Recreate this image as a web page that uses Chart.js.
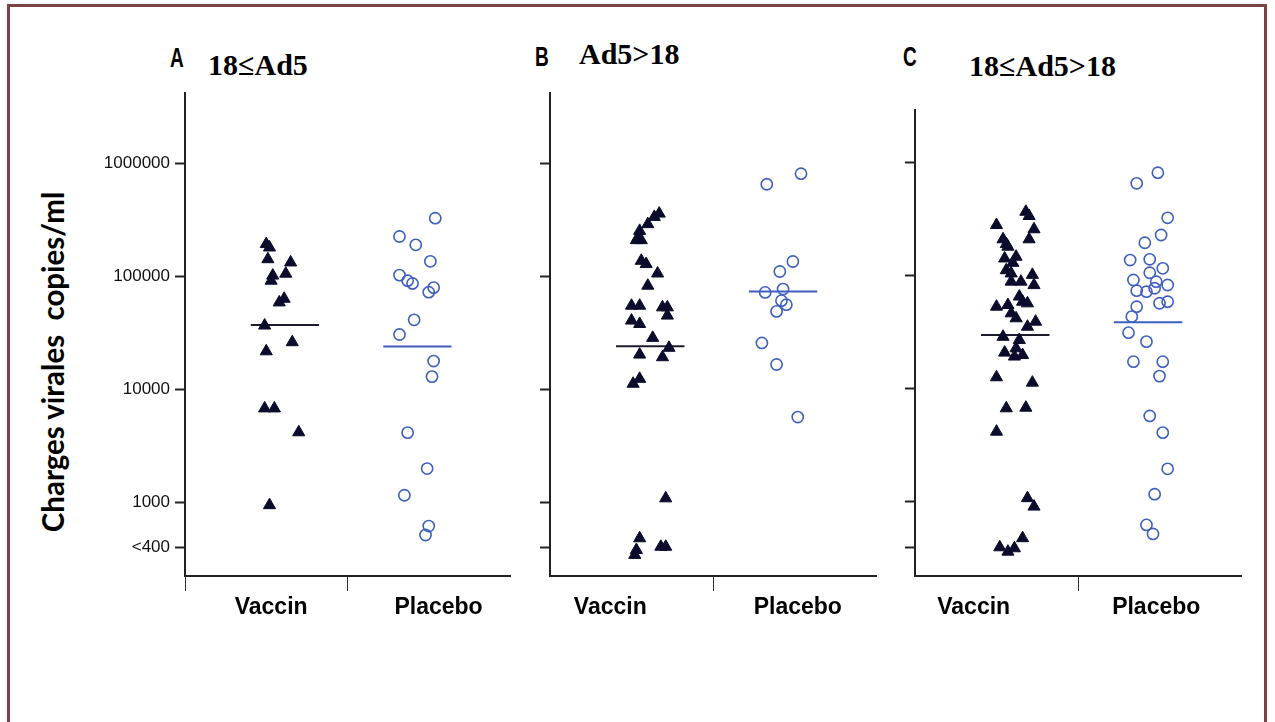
<!DOCTYPE html>
<html lang="fr">
<head>
<meta charset="utf-8">
<title>Charges virales</title>
<script src="https://cdn.jsdelivr.net/npm/chart.js@4/dist/chart.umd.min.js"></script>
<style>
  html, body { margin: 0; padding: 0; background: #fff; }
  body { width: 1275px; height: 722px; position: relative; overflow: hidden; }
  .frame {
    position: absolute; left: 7px; top: 4px; width: 1260px; height: 780px;
    border: 3px solid #7b4343; box-sizing: border-box;
  }
  .panel-canvas { position: absolute; }
  .lbl { position: absolute; line-height: 1; white-space: nowrap; transform-origin: 0 50%; }
  .letter {
    font-family: 'Liberation Sans', sans-serif; font-weight: 700; font-size: 28px; color: #000;
    transform: translateY(-50%) scaleX(0.68);
  }
  .subtitle {
    font-family: 'Liberation Serif', serif; font-weight: 700; font-size: 30px; color: #000;
    transform: translateY(-50%);
  }
  .ytitle {
    position: absolute; left: 53px; top: 362px; white-space: nowrap;
    font-family: Lato, 'Open Sans', sans-serif; font-weight: 700; font-size: 29.5px; line-height: 1;
    transform: translate(-50%, -50%) rotate(-90deg);
  }
</style>
</head>
<body>
<div class="frame"></div>

<div class="ytitle">Charges virales&nbsp; copies/ml</div>

<div class="lbl letter" id="letterA" style="left:170px; top:58px;"></div>
<div class="lbl subtitle" id="titleA" style="left:208px; top:65px;"></div>
<div class="lbl letter" id="letterB" style="left:535px; top:57px;"></div>
<div class="lbl subtitle" id="titleB" style="left:579px; top:54px;"></div>
<div class="lbl letter" id="letterC" style="left:903px; top:57px;"></div>
<div class="lbl subtitle" id="titleC" style="left:969px; top:66px;"></div>

<canvas id="chartA" class="panel-canvas" width="440" height="560" style="left:90px; top:78px;"></canvas>
<canvas id="chartB" class="panel-canvas" width="400" height="560" style="left:500px; top:78px;"></canvas>
<canvas id="chartC" class="panel-canvas" width="400" height="560" style="left:865px; top:78px;"></canvas>

<script>
// ── Categories, titles and tick labels ──
const categories   = ['Vaccin', 'Placebo'];
const panelLetters = ['A', 'B', 'C'];
const panelTitles  = ['18\u2264Ad5', 'Ad5>18', '18\u2264Ad5>18'];
const yTickValues  = [400, 1000, 10000, 100000, 1000000];
const yTickLabels  = ['<400', '1000', '10000', '100000', '1000000'];

// ── Panel A : 18≤Ad5 ──
const aVaccin   = [192000, 179000, 141000, 132000, 101000, 91000, 105000, 63000, 58500, 36500, 26000, 21600, 6750, 6750, 4150, 940];
const aVaccinX  = [0.50, 0.52, 0.51, 0.65, 0.54, 0.53, 0.62, 0.61, 0.58, 0.49, 0.66, 0.50, 0.49, 0.55, 0.70, 0.52];
const aPlacebo  = [325000, 224000, 189000, 135000, 102000, 91000, 86000, 79000, 72000, 41000, 30400, 17700, 12900, 4120, 1980, 1150, 614, 512];
const aPlaceboX = [1.54, 1.32, 1.42, 1.51, 1.32, 1.37, 1.40, 1.53, 1.50, 1.41, 1.32, 1.53, 1.52, 1.37, 1.49, 1.35, 1.50, 1.48];

// ── Panel B : Ad5>18 ──
const bVaccin   = [357000, 334000, 288000, 251000, 219000, 208000, 208000, 136500, 127700, 105400, 82200, 54700, 54700, 52900, 52900,
                   44700, 40400, 37700, 28400, 23200, 20200, 19150, 11150, 12330, 1080, 479, 377, 341, 403, 403];
const bVaccinX  = [0.67, 0.64, 0.60, 0.55, 0.54, 0.53, 0.56, 0.56, 0.59, 0.66, 0.60, 0.50, 0.55, 0.69, 0.72,
                   0.72, 0.50, 0.55, 0.63, 0.73, 0.55, 0.69, 0.51, 0.55, 0.71, 0.55, 0.53, 0.52, 0.68, 0.71];
const bPlacebo  = [805000, 649000, 134600, 109800, 71700, 76800, 60600, 55800, 48700, 25600, 16500, 5660];
const bPlaceboX = [1.54, 1.33, 1.49, 1.41, 1.32, 1.43, 1.42, 1.45, 1.39, 1.30, 1.39, 1.52];

// ── Panel C : 18≤Ad5>18 ──
const cVaccin   = [364000, 334000, 278000, 255000, 208000, 208000, 189000, 179000, 146000, 141000,
                   129000, 111000, 104000, 101000, 88000, 88000, 82000, 65000, 58500, 56600,
                   52900, 54700, 46200, 41800, 39000, 35200, 28700, 26900, 22700, 20800,
                   19800, 19200, 12600, 11300, 6710, 6790, 4170, 1080, 910, 479,
                   398, 364, 390];
const cVaccinX  = [0.68, 0.70, 0.50, 0.73, 0.70, 0.54, 0.56, 0.57, 0.62, 0.55,
                   0.60, 0.56, 0.59, 0.72, 0.59, 0.65, 0.73, 0.64, 0.66, 0.69,
                   0.50, 0.57, 0.59, 0.62, 0.74, 0.69, 0.54, 0.64, 0.62, 0.55,
                   0.66, 0.61, 0.50, 0.72, 0.56, 0.68, 0.50, 0.69, 0.73, 0.66,
                   0.52, 0.57, 0.61];
const cPlacebo  = [805000, 649000, 322000, 227000, 194000, 136500, 138500, 115300, 105400, 91000,
                   87900, 82200, 76900, 73200, 71700, 56700, 58500, 52900, 43200, 31200,
                   26000, 17300, 17300, 12900, 5740, 4090, 1960, 1170, 627, 522];
const cPlaceboX = [1.49, 1.36, 1.55, 1.51, 1.41, 1.32, 1.44, 1.52, 1.44, 1.34,
                   1.48, 1.55, 1.47, 1.36, 1.42, 1.50, 1.55, 1.36, 1.33, 1.31,
                   1.42, 1.34, 1.52, 1.50, 1.44, 1.52, 1.55, 1.47, 1.42, 1.46];

// ── Group means (horizontal bars) ──
const meanVaccin  = [37000, 23900, 29800];
const meanPlacebo = [23800, 73100, 38500];

/* ════════════════════════════
   HELPERS
════════════════════════════ */
const pts = (vals, xs) => vals.map((v, i) => ({ x: xs[i], y: v }));

// mean bar spans around the group centre
function meanLine(centre, value) {
  return [{ x: centre - 0.21, y: value }, { x: centre + 0.21, y: value }];
}

const INK  = '#0b0b2b';
const BLUE = '#3f5fbf';

/* ════════════════════════════
   ONE DOT-PLOT PANEL
════════════════════════════ */
function initPanel(p) {
  const ctx = document.getElementById(p.id);
  if (!ctx) return;

  new Chart(ctx, {
    type: 'scatter',
    data: {
      datasets: [
        {
          data: pts(p.vaccin, p.vaccinX),
          pointStyle: 'triangle',
          pointRadius: 7,
          backgroundColor: INK,
          borderColor: INK,
          borderWidth: 1
        },
        {
          data: pts(p.placebo, p.placeboX),
          pointStyle: 'circle',
          pointRadius: 5.6,
          backgroundColor: 'rgba(255,255,255,0)',
          borderColor: BLUE,
          borderWidth: 1.6
        },
        {
          data: meanLine(0.615, p.meanV),
          showLine: true,
          pointRadius: 0,
          borderColor: '#1c1c2c',
          borderWidth: 2
        },
        {
          data: meanLine(1.43, p.meanP),
          showLine: true,
          pointRadius: 0,
          borderColor: BLUE,
          borderWidth: 2
        }
      ]
    },
    options: {
      responsive: false,
      animation: false,
      events: [],
      layout: { padding: { top: p.padTop, right: p.padRight, left: 0, bottom: 0 } },
      plugins: {
        legend: { display: false },
        tooltip: { enabled: false }
      },
      scales: {
        x: {
          type: 'linear',
          min: 0,
          max: 2,
          border: { display: true, color: '#222', width: 2 },
          grid: {
            drawOnChartArea: false,
            drawTicks: true,
            tickLength: 15,
            tickWidth: 1,
            tickColor: (c) => (c.tick && p.xMarks.includes(c.tick.value)) ? '#333' : 'rgba(0,0,0,0)'
          },
          afterBuildTicks: (s) => {
            s.ticks = [0, p.labV, 1, p.labP].map(v => ({ value: v }));
          },
          afterFit: (s) => { s.height = 62; },
          ticks: {
            autoSkip: false,
            maxRotation: 0,
            padding: 3,
            color: '#000',
            font: { family: 'Liberation Sans', size: 23, weight: 'bold' },
            callback: (v) => v === p.labV ? categories[0] : (v === p.labP ? categories[1] : '')
          }
        },
        y: {
          type: 'logarithmic',
          min: 222,
          max: p.yMax,
          border: { display: true, color: '#222', width: 2 },
          grid: {
            drawOnChartArea: false,
            drawTicks: true,
            tickLength: 10,
            tickWidth: 2,
            tickColor: '#222'
          },
          afterBuildTicks: (s) => {
            s.ticks = yTickValues.map(v => ({ value: v }));
          },
          afterFit: (s) => { s.width = p.yWidth; },
          ticks: {
            padding: 5,
            color: '#111',
            font: { family: 'Liberation Sans', size: 17 },
            callback: (v, i) => p.showY ? yTickLabels[i] : ''
          }
        }
      }
    }
  });
}

/* ════════════════════════════
   INIT
════════════════════════════ */
['A', 'B', 'C'].forEach((k, i) => {
  document.getElementById('letter' + k).textContent = panelLetters[i];
  document.getElementById('title' + k).textContent = panelTitles[i];
});

initPanel({ id: 'chartA', vaccin: aVaccin, vaccinX: aVaccinX, placebo: aPlacebo, placeboX: aPlaceboX,
            meanV: meanVaccin[0], meanP: meanPlacebo[0], yMax: 4150000, padTop: 14, padRight: 20,
            yWidth: 95, showY: true, labV: 0.53, labP: 1.56, xMarks: [0, 1] });

initPanel({ id: 'chartB', vaccin: bVaccin, vaccinX: bVaccinX, placebo: bPlacebo, placeboX: bPlaceboX,
            meanV: meanVaccin[1], meanP: meanPlacebo[1], yMax: 4150000, padTop: 14, padRight: 24,
            yWidth: 50, showY: false, labV: 0.37, labP: 1.52, xMarks: [1] });

initPanel({ id: 'chartC', vaccin: cVaccin, vaccinX: cVaccinX, placebo: cPlacebo, placeboX: cPlaceboX,
            meanV: meanVaccin[2], meanP: meanPlacebo[2], yMax: 2880000, padTop: 32, padRight: 24,
            yWidth: 50, showY: false, labV: 0.36, labP: 1.48, xMarks: [1] });
</script>
</body>
</html>
